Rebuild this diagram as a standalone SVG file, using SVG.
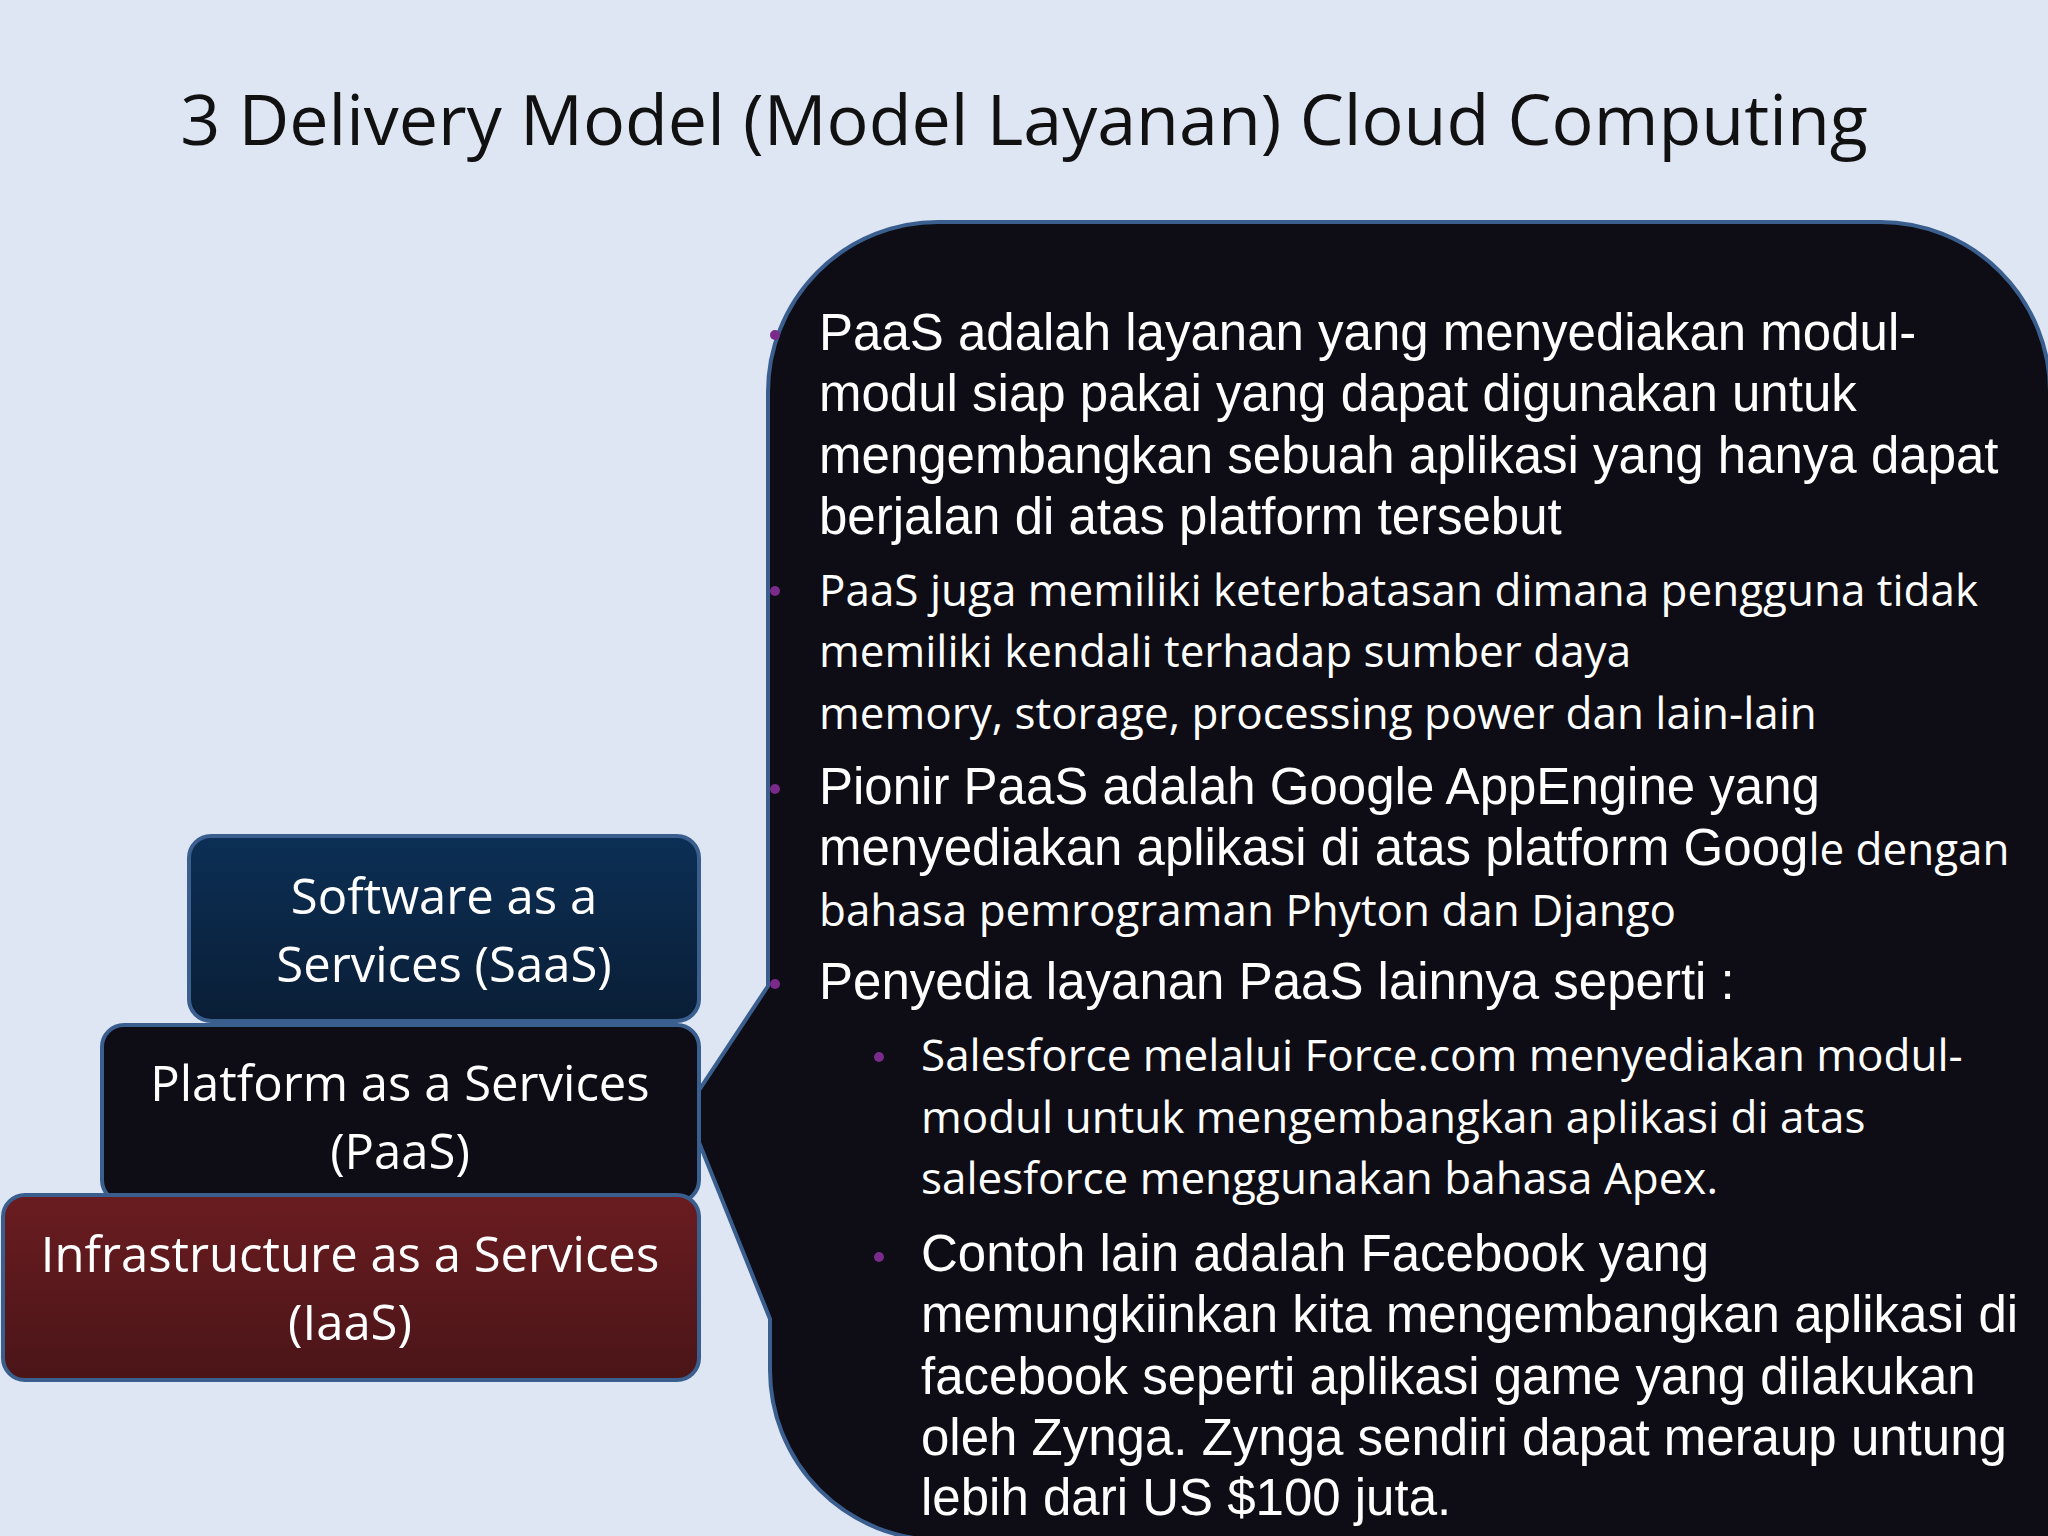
<svg xmlns="http://www.w3.org/2000/svg" width="2048" height="1536" viewBox="0 0 2048 1536">
<style>
.a{font-family:"Liberation Sans",Arial,sans-serif;font-size:51px;fill:#fff}
.c{font-family:"Open Sans","Noto Sans",sans-serif;font-size:44px;fill:#fff}
.bx{font-family:"Open Sans","Noto Sans",sans-serif;font-size:49px;fill:#fff;text-anchor:middle}
.dot{fill:#7a2a8a}
</style>
<defs>
<linearGradient id="gs" x1="0" y1="0" x2="0" y2="1"><stop offset="0" stop-color="#0c2f55"/><stop offset="1" stop-color="#0a1e36"/></linearGradient>
<linearGradient id="gi" x1="0" y1="0" x2="0" y2="1"><stop offset="0" stop-color="#6a1c20"/><stop offset="1" stop-color="#4a1518"/></linearGradient>
</defs>
<rect width="2048" height="1536" fill="#dfe6f3"/>
<text x="1024" y="145" text-anchor="middle" font-family="Open Sans,Noto Sans,sans-serif" font-size="70" fill="#111">3 Delivery Model (Model Layanan) Cloud Computing</text>
<g id="callout">
<path d="M938 222 H1880 A170 170 0 0 1 2050 392 V1540 H940 A170 170 0 0 1 770 1370 V1319 L686 1110 L768 986 V392 A170 170 0 0 1 938 222 Z" fill="#0e0c14" stroke="#3a5f8f" stroke-width="4"/>
</g>
<g id="saas"><rect x="189" y="836" width="510" height="185" rx="22" fill="url(#gs)" stroke="#3a5f8f" stroke-width="4"/>
<text class="bx" x="444" y="914">Software as a</text><text class="bx" x="444" y="982">Services (SaaS)</text></g>
<g id="paas"><rect x="102" y="1025" width="597" height="177" rx="22" fill="#0e0c14" stroke="#3a5f8f" stroke-width="4"/>
<text class="bx" x="400" y="1101">Platform as a Services</text><text class="bx" x="400" y="1169">(PaaS)</text></g>
<g id="iaas"><rect x="3" y="1195" width="696" height="185" rx="22" fill="url(#gi)" stroke="#3a5f8f" stroke-width="4"/>
<text class="bx" x="350" y="1272">Infrastructure as a Services</text><text class="bx" x="350" y="1340">(IaaS)</text></g>
<g id="text">
<circle class="dot" cx="775" cy="335" r="5"/><circle class="dot" cx="775" cy="591" r="5"/><circle class="dot" cx="775" cy="789" r="5"/><circle class="dot" cx="775" cy="984" r="5"/>
<circle class="dot" cx="879" cy="1057" r="5"/><circle class="dot" cx="879" cy="1257" r="5"/>
<text class="a" x="819" y="350">PaaS adalah layanan yang menyediakan modul-</text>
<text class="a" x="819" y="411">modul siap pakai yang dapat digunakan untuk</text>
<text class="a" x="819" y="473">mengembangkan sebuah aplikasi yang hanya dapat</text>
<text class="a" x="819" y="534">berjalan di atas platform tersebut</text>
<text class="c" x="819" y="606">PaaS juga memiliki keterbatasan dimana pengguna tidak</text>
<text class="c" x="819" y="667">memiliki kendali terhadap sumber daya</text>
<text class="c" x="819" y="729">memory, storage, processing power dan lain-lain</text>
<text class="a" x="819" y="804">Pionir PaaS adalah Google AppEngine yang</text>
<text class="a" x="819" y="865">menyediakan aplikasi di atas platform Goog<tspan class="c">le dengan</tspan></text>
<text class="c" x="819" y="926">bahasa pemrograman Phyton dan Django</text>
<text class="a" x="819" y="999">Penyedia layanan PaaS lainnya seperti :</text>
<text class="c" x="921" y="1071">Salesforce melalui Force.com  menyediakan modul-</text>
<text class="c" x="921" y="1133">modul untuk mengembangkan aplikasi di atas</text>
<text class="c" x="921" y="1194">salesforce menggunakan bahasa Apex.</text>
<text class="a" x="921" y="1271">Contoh lain adalah Facebook yang</text>
<text class="a" x="921" y="1332">memungkiinkan kita mengembangkan aplikasi di</text>
<text class="a" x="921" y="1394">facebook seperti  aplikasi game yang dilakukan</text>
<text class="a" x="921" y="1455">oleh Zynga. Zynga sendiri dapat meraup untung</text>
<text class="a" x="921" y="1515">lebih dari US $100 juta.</text>
</g>
</svg>
